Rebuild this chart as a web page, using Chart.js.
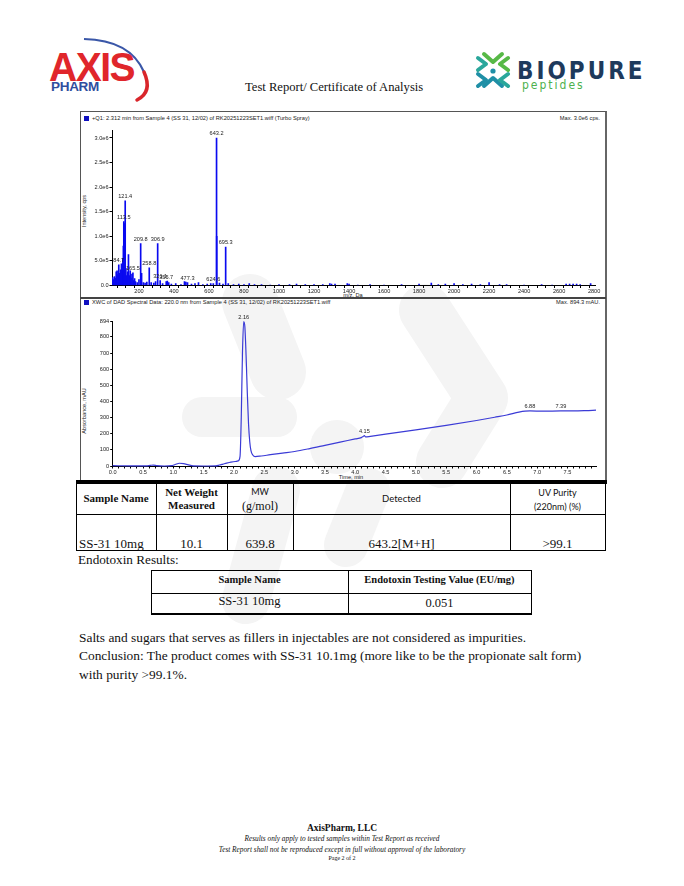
<!DOCTYPE html>
<html>
<head>
<meta charset="utf-8">
<script src="https://cdn.jsdelivr.net/npm/chart.js@4.4.1/dist/chart.umd.min.js"></script>
<style>
  body { margin:0; width:684px; height:886px; background:#fff; position:relative; overflow:hidden;
         font-family:"Liberation Serif","Times New Roman",serif; color:#111; }
  .a { position:absolute; white-space:nowrap; }
  .c { text-align:center; }
  .sans { font-family:"Liberation Sans",Arial,sans-serif; }
  .cal { font-family:Lato,"Liberation Sans",sans-serif; }
  .ln { position:absolute; background:#000; }
  canvas { position:absolute; }
</style>
</head>
<body>

<!-- faint watermark -->
<svg class="a" style="left:0;top:0" width="684" height="886">
  <g stroke="#f4f4f4" fill="none" stroke-linecap="round" stroke-linejoin="round">
    <line x1="250" y1="302" x2="278" y2="372" stroke-width="56"/>
    <polyline points="425,310 482,398 442,462" stroke-width="52"/>
    <line x1="202" y1="417" x2="277" y2="417" stroke-width="40"/>
    <line x1="276" y1="490" x2="246" y2="600" stroke-width="48"/>
    <line x1="368" y1="490" x2="346" y2="545" stroke-width="44"/>
  </g>
  <circle cx="337" cy="447" r="27" fill="#f4f4f4"/>
</svg>

<!-- AxisPharm logo -->
<svg class="a" style="left:0;top:0" width="200" height="110">
  <path d="M84 39 Q130 40 144 72" stroke="#3a57a8" stroke-width="2.2" fill="none"/>
  <path d="M144 72 Q153 92 137 100" stroke="#d9262b" stroke-width="3.5" fill="none" stroke-linecap="round"/>
  <text x="49" y="81" font-family="Liberation Sans,Arial" font-weight="bold" font-size="39" fill="#e0262b" letter-spacing="-1.5" transform="translate(0,81) scale(1,1.05) translate(0,-81)">AXIS</text>
  <text x="51" y="90.5" font-family="Liberation Sans,Arial" font-weight="bold" font-size="13.5" fill="#2f4e9e" letter-spacing="-0.3">PHARM</text>
</svg>

<!-- BioPure logo -->
<svg class="a" style="left:0;top:0" width="684" height="110">
  <g stroke-linecap="round" stroke-linejoin="round" fill="none" stroke-width="4">
    <polyline points="478,58 486,64 478,70" stroke="#2aa79b"/>
    <polyline points="508,58 500,64 508,70" stroke="#57b947"/>
    <polyline points="484,54 493,62 502,54" stroke="#57b947"/>
    <polyline points="484,86 493,78 502,86" stroke="#1f8fa6"/>
    <polyline points="478,74 486,80 478,86" stroke="#1f8fa6"/>
    <polyline points="508,74 500,80 508,86" stroke="#2aa79b"/>
  </g>
  <circle cx="493" cy="71" r="2.6" fill="#1f8fa6"/>
  <text x="517" y="78.5" font-family="DejaVu Sans Condensed,DejaVu Sans" font-weight="bold" font-size="24" fill="#1e3a5c" letter-spacing="3">BIOPURE</text>
  <text x="522" y="88.5" font-family="DejaVu Sans Condensed,DejaVu Sans" font-size="12" fill="#4db14e" letter-spacing="2">peptides</text>
</svg>

<div class="a" style="left:245px;top:80px;font-size:12.6px;">Test Report/ Certificate of Analysis</div>

<!-- spectrum panel frame -->
<div class="a" style="left:80px;top:111px;width:524px;height:368px;border:1.5px solid #555;border-right:2.5px solid #666;"></div>
<div class="ln" style="left:80px;top:297px;width:526px;height:1.5px;background:#444;"></div>
<div class="ln" style="left:76px;top:479.5px;width:531px;height:4px;"></div>

<div class="a" style="left:84px;top:116px;width:5px;height:5px;background:#1010c0;"></div>
<div class="a sans" style="left:92px;top:114.8px;font-size:5.7px;color:#222;">+Q1: 2.312 min from Sample 4 (SS 31, 12/02) of RK20251223SET1.wiff (Turbo Spray)</div>
<div class="a sans" style="right:84px;top:114.8px;font-size:5.7px;color:#222;">Max. 3.0e6 cps.</div>
<div class="a sans" style="left:84px;top:211px;font-size:5.6px;color:#222;transform:translate(-50%,-50%) rotate(-90deg);">Intensity, cps</div>
<div class="a sans" style="left:353px;top:295px;font-size:5.6px;color:#222;transform:translate(-50%,-50%);">m/z, Da</div>

<div class="a" style="left:84px;top:300px;width:5px;height:5px;background:#1010c0;"></div>
<div class="a sans" style="left:92px;top:299.3px;font-size:5.7px;color:#222;">XWC of DAD Spectral Data: 220.0 nm from Sample 4 (SS 31, 12/02) of RK20251223SET1.wiff</div>
<div class="a sans" style="right:84px;top:299.3px;font-size:5.7px;color:#222;">Max. 894.3 mAU.</div>
<div class="a sans" style="left:84px;top:411px;font-size:5.6px;color:#222;transform:translate(-50%,-50%) rotate(-90deg);">Absorbance, mAU</div>
<div class="a sans" style="left:351px;top:477px;font-size:5.6px;color:#222;transform:translate(-50%,-50%);">Time, min</div>

<canvas id="ms" width="527" height="173" style="left:79px;top:124px;"></canvas>
<canvas id="uv" width="527" height="175" style="left:79px;top:305px;"></canvas>

<!-- results table -->
<div class="ln" style="left:76px;top:514px;width:530px;height:1px;"></div>
<div class="ln" style="left:76px;top:550px;width:530px;height:1px;"></div>
<div class="ln" style="left:76px;top:483px;width:1px;height:68px;"></div>
<div class="ln" style="left:156px;top:483px;width:1px;height:68px;"></div>
<div class="ln" style="left:227px;top:483px;width:1px;height:68px;"></div>
<div class="ln" style="left:293px;top:483px;width:1px;height:68px;"></div>
<div class="ln" style="left:510px;top:483px;width:1px;height:68px;"></div>
<div class="ln" style="left:605px;top:483px;width:1px;height:68px;"></div>

<div class="a c" style="left:76px;width:80px;top:492px;font-size:11px;font-weight:bold;">Sample Name</div>
<div class="a c" style="left:156px;width:71px;top:486px;font-size:11px;font-weight:bold;line-height:13px;">Net Weight<br>Measured</div>
<div class="a c cal" style="left:227px;width:66px;top:486px;font-size:9px;">MW</div>
<div class="a c" style="left:227px;width:66px;top:499px;font-size:12px;">(g/mol)</div>
<div class="a c cal" style="left:293px;width:217px;top:493px;font-size:9.5px;">Detected</div>
<div class="a c cal" style="left:510px;width:95px;top:486px;font-size:9px;line-height:13.5px;">UV Purity<br>(220nm) (%)</div>

<div class="a" style="left:79px;top:535.5px;font-size:13px;">SS-31 10mg</div>
<div class="a c" style="left:156px;width:71px;top:535.5px;font-size:13px;">10.1</div>
<div class="a c" style="left:227px;width:66px;top:535.5px;font-size:13px;">639.8</div>
<div class="a c" style="left:293px;width:217px;top:535.5px;font-size:13px;">643.2[M+H]</div>
<div class="a c" style="left:510px;width:95px;top:535.5px;font-size:13px;">&gt;99.1</div>

<div class="a" style="left:78px;top:552px;font-size:13.2px;">Endotoxin Results:</div>

<!-- endotoxin table -->
<div class="ln" style="left:151px;top:570px;width:381px;height:1px;"></div>
<div class="ln" style="left:151px;top:593px;width:381px;height:1px;"></div>
<div class="ln" style="left:151px;top:613px;width:381px;height:1.5px;"></div>
<div class="ln" style="left:151px;top:570px;width:1px;height:44px;"></div>
<div class="ln" style="left:348px;top:570px;width:1px;height:44px;"></div>
<div class="ln" style="left:531px;top:570px;width:1px;height:44px;"></div>
<div class="a c" style="left:151px;width:197px;top:574px;font-size:10.5px;font-weight:bold;">Sample Name</div>
<div class="a c" style="left:348px;width:183px;top:574px;font-size:10.5px;font-weight:bold;">Endotoxin Testing Value (EU/mg)</div>
<div class="a c" style="left:151px;width:197px;top:594px;font-size:12.5px;">SS-31 10mg</div>
<div class="a c" style="left:348px;width:183px;top:596px;font-size:12.5px;">0.051</div>

<div class="a" style="left:79px;top:629px;font-size:13.4px;line-height:18.3px;">Salts and sugars that serves as fillers in injectables are not considered as impurities.<br>Conclusion: The product comes with SS-31 10.1mg (more like to be the propionate salt form)<br>with purity &gt;99.1%.</div>

<div class="a c" style="left:142px;width:400px;top:822.5px;font-size:9.5px;font-weight:bold;">AxisPharm, LLC</div>
<div class="a c" style="left:142px;width:400px;top:833.5px;font-size:7.3px;font-style:italic;">Results only apply to tested samples within Test Report as received</div>
<div class="a c" style="left:142px;width:400px;top:844.5px;font-size:7.3px;font-style:italic;">Test Report shall not be reproduced except in full without approval of the laboratory</div>
<div class="a c" style="left:142px;width:400px;top:854.5px;font-size:6px;">Page 2 of 2</div>

<script>
// mass spectrum (Q1 scan at 2.312 min)
const msMz = [50, 55, 60, 65, 70, 75, 80, 84.7, 90, 95, 100, 104, 108, 111, 113.5, 116, 118, 121.4, 125, 130,
  135, 140, 145, 150, 155, 160, 165.5, 170, 175, 180, 190, 200, 209.8, 215, 225, 235, 245, 258.8, 270, 285,
  295, 306.9, 321.1, 335, 355.7, 362, 370, 385, 410, 440, 460, 468, 477.3, 500, 520, 540, 565, 590, 610, 624.6,
  643.2, 644.2, 660, 680, 695.3, 710, 740, 770, 800, 830, 860, 900, 950, 1000, 1060, 1100, 1150, 1200, 1250, 1290,
  1300, 1320, 1390, 1400, 1450, 1520, 1600, 1700, 1800, 1870, 1910, 1950, 2000, 2050, 2100, 2150, 2200, 2260, 2300, 2400,
  2500, 2560, 2640, 2660, 2680, 2700, 2720, 2780];
const msIntensity = [1.6e5, 1.2e5, 1.8e5, 1.5e5, 2.8e5, 3.0e5, 2.2e5, 4.2e5, 2.5e5, 3.2e5, 4.4e5, 3.0e5, 5.5e5, 8.0e5, 13.0e5, 12.6e5, 12.0e5, 17.2e5, 3.5e5, 2.0e5,
  2.8e5, 6.3e5, 2.0e5, 3.0e5, 1.5e5, 2.3e5, 2.6e5, 1.0e5, 1.4e5, 0.8e5, 0.6e5, 1.2e5, 8.5e5, 2.5e5, 0.6e5, 0.5e5, 0.7e5, 3.6e5, 0.6e5, 0.5e5,
  0.8e5, 8.5e5, 1.0e5, 0.4e5, 0.8e5, 0.9e5, 0.6e5, 0.3e5, 0.4e5, 0.2e5, 0.8e5, 0.7e5, 0.6e5, 0.3e5, 0.4e5, 0.6e5, 0.2e5, 0.3e5, 0.4e5, 0.4e5,
  30.0e5, 10.0e5, 0.5e5, 0.3e5, 7.8e5, 0.4e5, 0.2e5, 0.3e5, 0.2e5, 0.4e5, 0.2e5, 0.2e5, 0.1e5, 0.2e5, 0.2e5, 0.3e5, 0.2e5, 0.2e5, 0.2e5, 0.4e5,
  0.3e5, 0.3e5, 0.4e5, 0.3e5, 0.1e5, 0.2e5, 0.1e5, 0.2e5, 0.3e5, 0.5e5, 0.2e5, 0.3e5, 0.4e5, 0.2e5, 0.3e5, 0.2e5, 0.6e5, 0.2e5, 0.2e5, 0.1e5,
  0.2e5, 0.1e5, 0.3e5, 0.3e5, 0.3e5, 0.3e5, 0.2e5, 0.4e5];
const msLabelMz = [84.7, 113.5, 121.4, 165.5, 209.8, 258.8, 306.9, 321.1, 355.7, 477.3, 624.6, 643.2, 695.3];
const msXLabels = [200, 400, 600, 800, 1000, 1200, 1400, 1600, 1800, 2000, 2200, 2400, 2600, 2800];
const msYTicks = [0, 5e5, 1e6, 1.5e6, 2e6, 2.5e6, 3e6];

// UV chromatogram at 220 nm
const uvTime = [0, 0.3, 0.55, 0.62, 0.67, 0.73, 0.85, 0.97, 1.03, 1.1, 1.17, 1.25, 1.33, 1.5, 1.7, 1.76, 1.82, 1.88, 1.95, 2.02,
  2.07, 2.1, 2.12, 2.14, 2.16, 2.18, 2.2, 2.22, 2.24, 2.26, 2.28, 2.31, 2.35, 2.45, 2.6, 2.8, 3.0, 3.25, 3.5, 3.75,
  4.0, 4.1, 4.13, 4.15, 4.17, 4.25, 4.5, 5.0, 5.5, 6.0, 6.3, 6.5, 6.7, 6.8, 6.88, 7.1, 7.39, 7.6, 7.8, 7.97];
const uvAbs = [2, 1, 1, 4, 6, 2, 0, 2, 9, 17, 15, 7, 1, 0, 1, 6, 12, 18, 24, 28,
  32, 60, 300, 700, 894, 860, 680, 450, 260, 150, 95, 68, 58, 62, 70, 80, 90, 108, 128, 148,
  168, 176, 183, 188, 180, 184, 197, 224, 252, 282, 302, 316, 334, 340, 341, 340, 341, 341, 343, 346];
const uvLabelTime = [2.16, 4.15, 6.88, 7.39];
const uvXLabels = [0.0, 0.5, 1.0, 1.5, 2.0, 2.5, 3.0, 3.5, 4.0, 4.5, 5.0, 5.5, 6.0, 6.5, 7.0, 7.5];
const uvYTicks = [0, 100, 200, 300, 400, 500, 600, 700, 800, 894];

Chart.defaults.font.family = '"Liberation Sans", Arial, sans-serif';
Chart.defaults.font.size = 5.6;
Chart.defaults.color = '#222';

// peak annotations drawn at the data point
const peakLabels = {
  id: 'peakLabels',
  afterDatasetsDraw(chart, args, opts) {
    const { ctx, scales: { x, y } } = chart;
    ctx.save();
    ctx.font = '5.6px "Liberation Sans", Arial, sans-serif';
    ctx.fillStyle = '#222';
    ctx.textAlign = 'center';
    ctx.textBaseline = 'bottom';
    opts.xs.forEach((v, i) => {
      ctx.fillText(opts.texts[i], x.getPixelForValue(v), y.getPixelForValue(opts.ys[i]) - 1.5);
    });
    ctx.restore();
  }
};

function axisStyle() {
  return {
    border: { display: true, color: '#000', width: 1 },
    grid: { display: true, drawOnChartArea: false, drawTicks: true, tickLength: 2.5, tickColor: '#000' }
  };
}

function minorTicks(from, to, step) {
  const out = [];
  for (let v = from; v <= to + 1e-9; v += step) out.push({ value: +v.toFixed(4) });
  return out;
}

new Chart(document.getElementById('ms'), {
  type: 'bar',
  data: {
    datasets: [{
      data: msMz.map((m, i) => ({ x: m, y: msIntensity[i] })),
      backgroundColor: '#0a0af0',
      barThickness: 1,
      grouped: false
    }]
  },
  options: {
    responsive: false, animation: false,
    layout: { padding: { top: 6.6, right: 11, left: 0, bottom: 0 } },
    plugins: {
      legend: { display: false }, tooltip: { enabled: false },
      peakLabels: {
        xs: msLabelMz,
        ys: msLabelMz.map(m => msIntensity[msMz.indexOf(m)]),
        texts: msLabelMz.map(m => m.toFixed(1))
      }
    },
    scales: {
      x: {
        type: 'linear', min: 46, max: 2805, offset: false, ...axisStyle(),
        afterBuildTicks: s => { s.ticks = minorTicks(50, 2800, 50); },
        afterFit: s => { s.height = 11.5; },
        ticks: { autoSkip: false, maxRotation: 0, padding: 0.5,
          callback: v => msXLabels.includes(v) ? String(v) : '' }
      },
      y: {
        min: 0, max: 3.15e6, ...axisStyle(),
        afterBuildTicks: s => { s.ticks = msYTicks.map(v => ({ value: v })); },
        afterFit: s => { s.width = 33; },
        ticks: { padding: 1, callback: v => v === 0 ? '0.0' : v.toExponential(1).replace('+', '') }
      }
    }
  },
  plugins: [peakLabels]
});

new Chart(document.getElementById('uv'), {
  type: 'line',
  data: {
    datasets: [{
      data: uvTime.map((t, i) => ({ x: t, y: uvAbs[i] })),
      borderColor: '#3b3bd6',
      borderWidth: 1.2,
      pointRadius: 0,
      cubicInterpolationMode: 'monotone',
      clip: false
    }]
  },
  options: {
    responsive: false, animation: false,
    layout: { padding: { top: 16.7, right: 10, left: 0, bottom: 0 } },
    plugins: {
      legend: { display: false }, tooltip: { enabled: false },
      peakLabels: {
        xs: uvLabelTime,
        ys: uvLabelTime.map(t => uvAbs[uvTime.indexOf(t)]),
        texts: uvLabelTime.map(t => t.toFixed(2))
      }
    },
    scales: {
      x: {
        type: 'linear', min: 0, max: 7.97, ...axisStyle(),
        afterBuildTicks: s => { s.ticks = minorTicks(0, 7.9, 0.1); },
        afterFit: s => { s.height = 14; },
        ticks: { autoSkip: false, maxRotation: 0, padding: 0.5,
          callback: v => uvXLabels.some(l => Math.abs(l - v) < 1e-6) ? v.toFixed(1) : '' }
      },
      y: {
        min: 0, max: 894, ...axisStyle(),
        afterBuildTicks: s => { s.ticks = uvYTicks.map(v => ({ value: v })); },
        afterFit: s => { s.width = 33.7; },
        ticks: { padding: 1 }
      }
    }
  },
  plugins: [peakLabels]
});
</script>
</body>
</html>
